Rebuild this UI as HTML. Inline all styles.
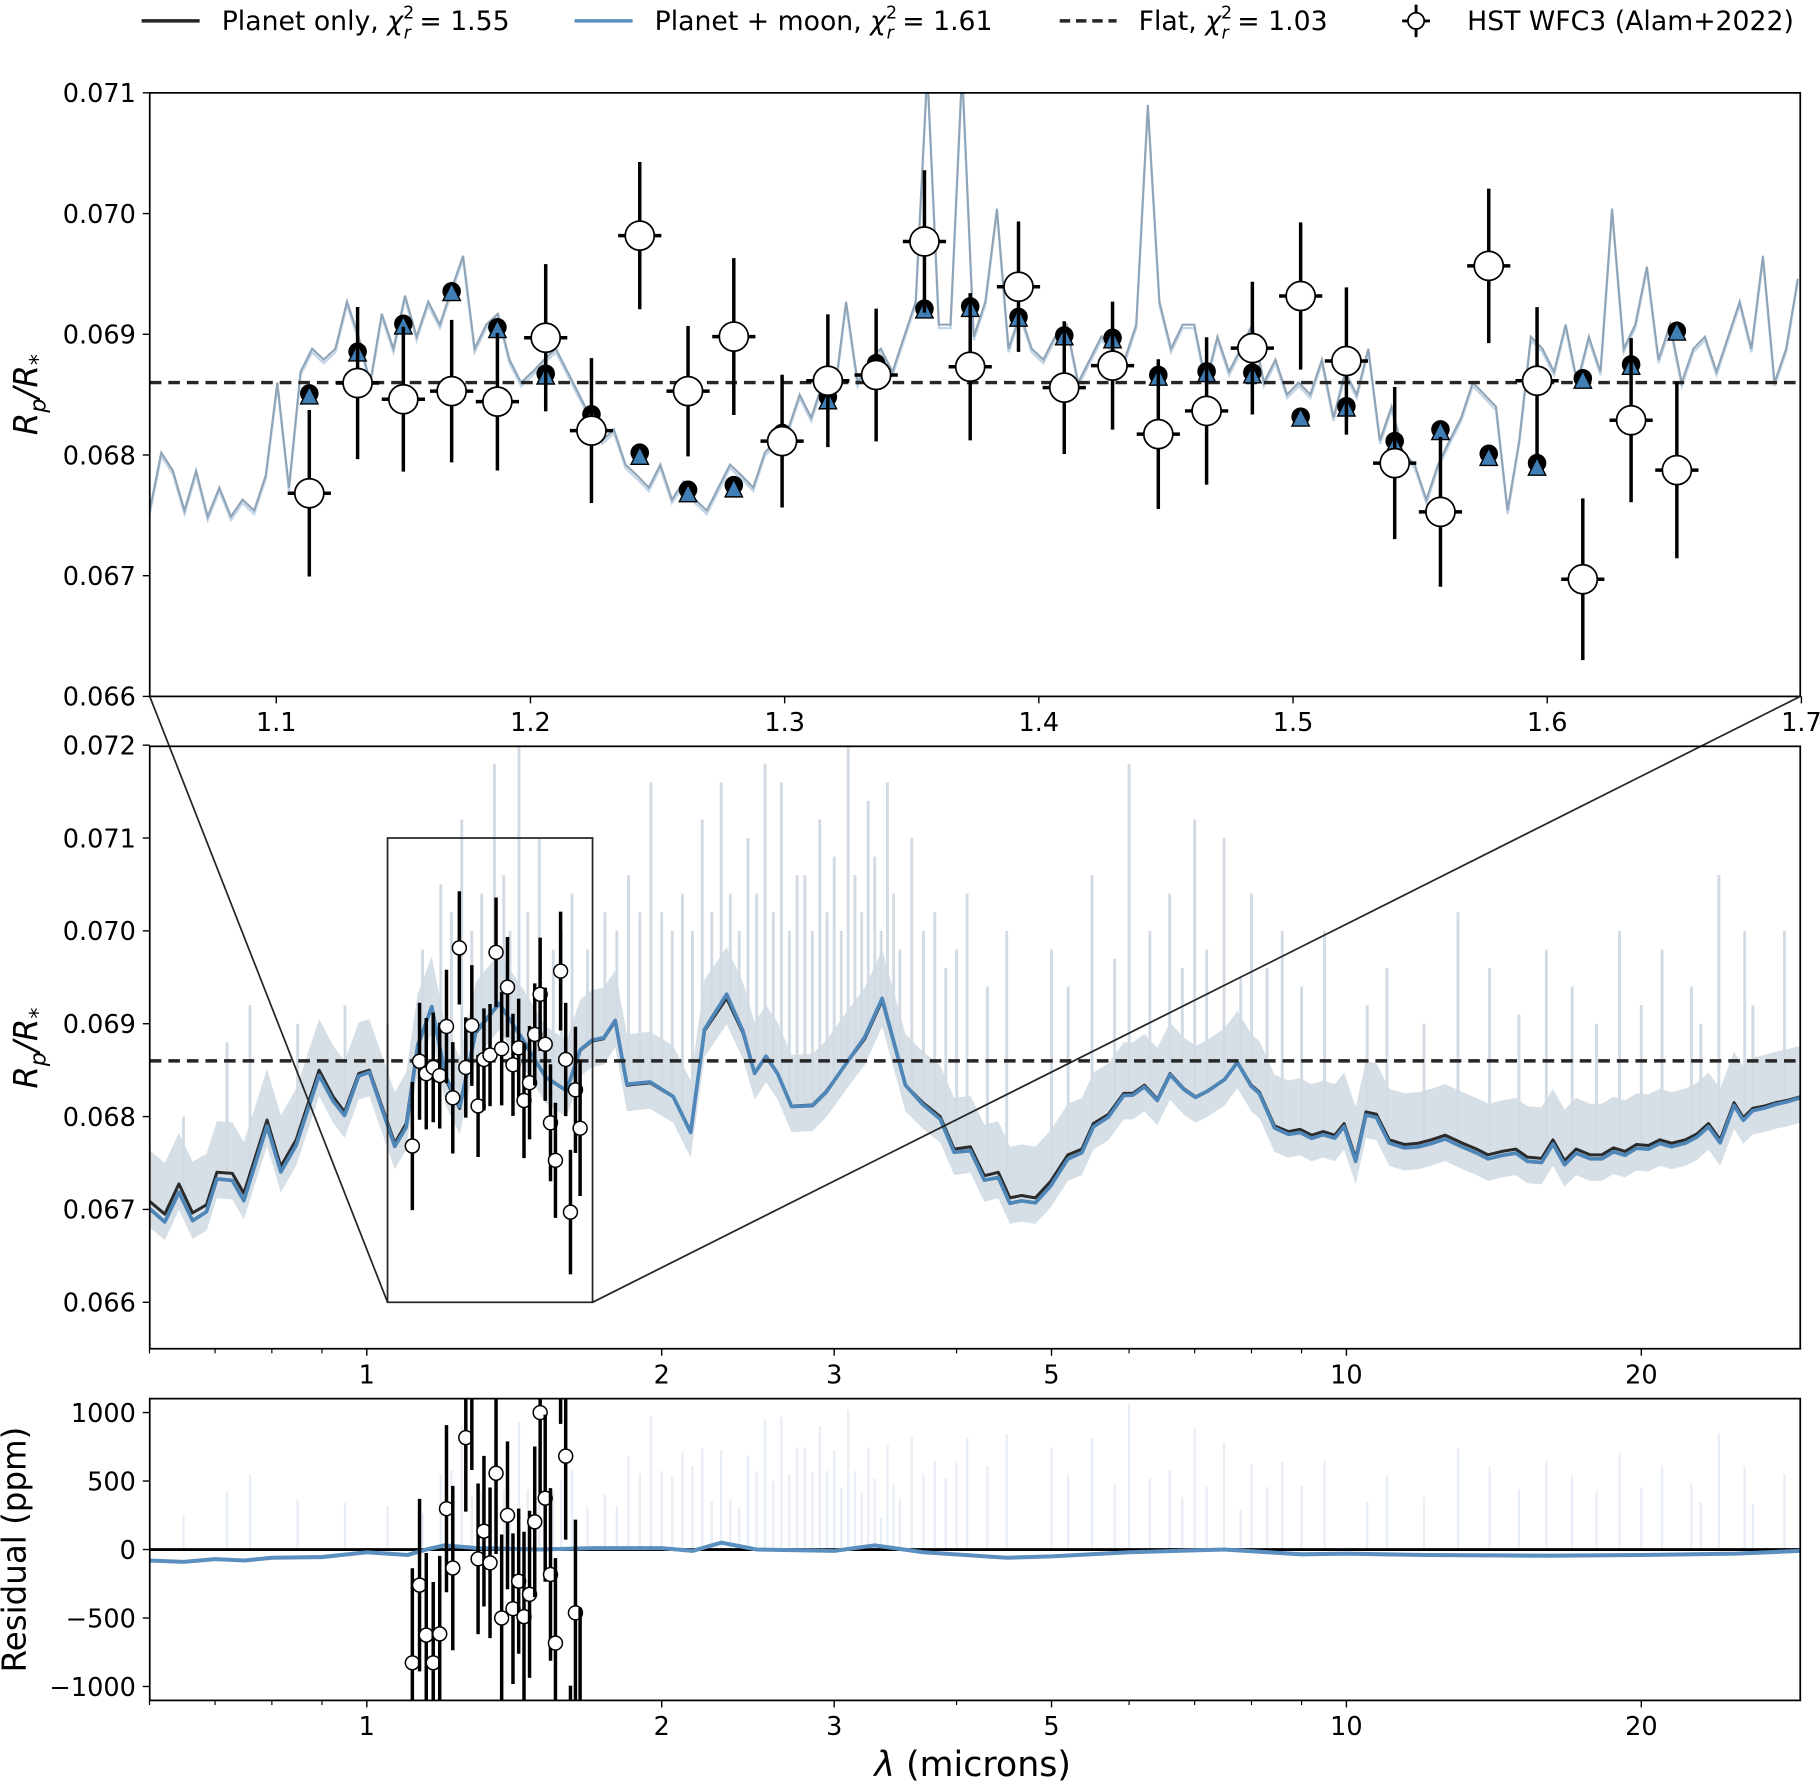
<!DOCTYPE html>
<html><head><meta charset="utf-8">
<style>
html,body{margin:0;padding:0;background:#fff;}
svg{display:block;font-family:"DejaVu Sans","Liberation Sans",sans-serif;}
</style></head>
<body>
<svg id="fig" width="1820" height="1787" viewBox="0 0 1568 1539.6" xmlns="http://www.w3.org/2000/svg">
<defs>
<clipPath id="clipTop"><rect x="129" y="80" width="1422" height="520"/></clipPath>
<clipPath id="clipMid"><rect x="129" y="643" width="1422" height="519"/></clipPath>
<clipPath id="clipRes"><rect x="129" y="1205" width="1422" height="260"/></clipPath>
</defs>
<g id="legend" font-size="23">
 <g>
  <line x1="122" y1="18" x2="172" y2="18" stroke="#262626" stroke-width="3"/>
  <text x="191" y="26">Planet only, <tspan font-style="italic">χ</tspan><tspan font-size="15" dy="-10">2</tspan><tspan font-size="15" font-style="italic" dx="-9" dy="17">r</tspan><tspan dy="-7"> = 1.55</tspan></text>
 </g>
 <g>
  <line x1="495" y1="18" x2="545" y2="18" stroke="#5b8fbf" stroke-width="3"/>
  <text x="564" y="26">Planet + moon, <tspan font-style="italic">χ</tspan><tspan font-size="15" dy="-10">2</tspan><tspan font-size="15" font-style="italic" dx="-9" dy="17">r</tspan><tspan dy="-7"> = 1.61</tspan></text>
 </g>
 <g>
  <line x1="913" y1="18" x2="962" y2="18" stroke="#262626" stroke-width="3" stroke-dasharray="9,5"/>
  <text x="981" y="26">Flat, <tspan font-style="italic">χ</tspan><tspan font-size="15" dy="-10">2</tspan><tspan font-size="15" font-style="italic" dx="-9" dy="17">r</tspan><tspan dy="-7"> = 1.03</tspan></text>
 </g>
 <g>
  <line x1="1220" y1="4" x2="1220" y2="32" stroke="#000" stroke-width="2.5"/>
  <line x1="1208" y1="18" x2="1232" y2="18" stroke="#000" stroke-width="2.5"/>
  <circle cx="1220" cy="18" r="7" fill="#fff" stroke="#000" stroke-width="1.5"/>
  <text x="1264" y="26">HST WFC3 (Alam+2022)</text>
 </g>
</g>
<g id="gTop"></g>
<g id="gMid"></g>
<g id="gRes"></g>
</svg>
<script>
// ---------- DATA ----------
const obsWl = [1.113,1.132,1.150,1.169,1.187,1.206,1.224,1.243,1.262,1.280,1.299,1.317,1.336,1.355,1.373,1.392,1.410,1.429,1.447,1.466,1.484,1.503,1.521,1.540,1.558,1.577,1.596,1.614,1.633,1.651];
const obsVal = [0.067683,0.068596,0.068462,0.068529,0.068442,0.068971,0.068202,0.069817,0.068529,0.068981,0.068115,0.068615,0.068663,0.069769,0.068731,0.069394,0.068558,0.068740,0.068173,0.068365,0.068885,0.069317,0.068779,0.067933,0.067529,0.069567,0.068615,0.066971,0.068288,0.067875];
const obsErr = [0.00069,0.00063,0.00060,0.00059,0.00057,0.00061,0.00060,0.00061,0.00054,0.00065,0.00055,0.00055,0.00055,0.00059,0.00061,0.00054,0.00055,0.00053,0.00062,0.00061,0.00055,0.00061,0.00061,0.00063,0.00062,0.00064,0.00061,0.00067,0.00068,0.00073];
const obsHalfBin = 0.0085;
const binPlanet = [0.068510,0.068856,0.069087,0.069356,0.069058,0.068673,0.068337,0.068019,0.067712,0.067750,0.068183,0.068481,0.068760,0.069212,0.069231,0.069144,0.068990,0.068971,0.068663,0.068692,0.068683,0.068317,0.068404,0.068115,0.068212,0.068010,0.067933,0.068635,0.068750,0.069029];
const binMoon = [0.068500,0.068856,0.069080,0.069356,0.069050,0.068665,0.068320,0.068000,0.067690,0.067730,0.068170,0.068460,0.068745,0.069212,0.069225,0.069144,0.068990,0.068965,0.068655,0.068685,0.068675,0.068317,0.068400,0.068095,0.068205,0.067990,0.067910,0.068630,0.068745,0.069029];
const flatVal = 0.06860;
const obsResid = [-827,-260,-625,-827,-616,298,-135,1798,817,1231,-68,134,-97,557,-500,250,-432,-231,-490,-327,202,1000,375,-182,-683,1557,682,-1664,-462,-1154];
const obsResidErr = [690,630,600,590,570,610,600,610,540,650,550,550,550,590,610,540,550,530,620,610,550,610,610,630,620,640,610,670,680,730];

const hiresStart = 1.0502, hiresStep = 0.004566;
const hiresVal = [0.06754,0.06802,0.06787,0.06754,0.06787,0.06749,0.06773,0.06749,0.06763,0.06754,0.06783,0.06860,0.06773,0.06869,0.06888,0.06879,0.06888,0.06927,0.06898,0.06860,0.06917,0.06888,0.06932,0.06898,0.06927,0.06908,0.06937,0.06965,0.06888,0.06908,0.06917,0.06879,0.06860,0.06869,0.06879,0.06888,0.06869,0.06850,0.06831,0.06812,0.06821,0.06792,0.06783,0.06773,0.06792,0.06763,0.06778,0.06763,0.06754,0.06773,0.06792,0.06783,0.06773,0.06802,0.06812,0.06821,0.06850,0.06831,0.06860,0.06850,0.06927,0.06860,0.06879,0.06888,0.06869,0.06898,0.06927,0.07119,0.06908,0.06908,0.07119,0.06898,0.06927,0.07004,0.06888,0.06917,0.06888,0.06879,0.06898,0.06908,0.06860,0.06879,0.06898,0.06888,0.06879,0.06908,0.07090,0.06927,0.06888,0.06908,0.06908,0.06860,0.06898,0.06869,0.06888,0.06908,0.06860,0.06879,0.06850,0.06860,0.06850,0.06879,0.06831,0.06869,0.06850,0.06888,0.06812,0.06840,0.06802,0.06792,0.06763,0.06792,0.06812,0.06831,0.06860,0.06850,0.06840,0.06754,0.06812,0.06898,0.06888,0.06869,0.06908,0.06860,0.06898,0.06869,0.07004,0.06888,0.06908,0.06956,0.06879,0.06908,0.06860,0.06888,0.06898,0.06869,0.06898,0.06927,0.06888,0.06965,0.06860,0.06888,0.06946];

const modelWl = [0.600,0.622,0.643,0.664,0.686,0.703,0.729,0.749,0.791,0.817,0.847,0.894,0.924,0.949,0.981,1.006,1.068,1.097,1.127,1.165,1.204,1.244,1.292,1.365,1.441,1.522,1.599,1.652,1.698,1.745,1.793,1.843,1.946,2.055,2.141,2.212,2.330,2.421,2.488,2.556,2.627,2.714,2.851,2.946,3.094,3.224,3.358,3.547,3.695,3.849,3.977,4.132,4.270,4.412,4.534,4.659,4.814,4.988,5.196,5.369,5.517,5.716,5.924,6.053,6.220,6.411,6.606,6.826,7.015,7.209,7.510,7.739,7.996,8.151,8.445,8.727,8.968,9.215,9.470,9.731,9.946,10.22,10.47,10.73,11.06,11.46,11.84,12.21,12.61,13.14,13.58,13.95,14.41,14.89,15.30,15.82,16.25,16.70,17.16,17.74,18.23,18.73,19.25,19.78,20.33,20.89,21.47,22.18,22.79,23.42,24.07,24.87,25.42,25.98,26.70,27.44,28.20,29.06];
const modelPlanet = [0.067088,0.06695,0.067275,0.066963,0.06705,0.0674,0.067388,0.067175,0.067963,0.067463,0.06775,0.0685,0.068213,0.06805,0.068463,0.0685,0.067713,0.067925,0.068775,0.069175,0.0684,0.068088,0.0689,0.069213,0.068838,0.068425,0.068275,0.068713,0.068813,0.068838,0.069025,0.068338,0.068363,0.068213,0.067838,0.068925,0.069275,0.0689,0.068463,0.06865,0.068463,0.068113,0.068125,0.068275,0.068588,0.068838,0.06925,0.068338,0.06815,0.068,0.06765,0.067675,0.067363,0.0674,0.067125,0.06715,0.067125,0.0673,0.067588,0.06765,0.067925,0.068025,0.06825,0.06825,0.068338,0.068188,0.068463,0.0683,0.068213,0.068275,0.0684,0.068588,0.068338,0.068263,0.0679,0.067838,0.067863,0.0678,0.067838,0.0678,0.067925,0.06755,0.06805,0.068025,0.06775,0.0677,0.067713,0.06775,0.0678,0.067713,0.06765,0.067588,0.067625,0.06765,0.067563,0.06755,0.06775,0.067525,0.06765,0.067588,0.067588,0.067663,0.067625,0.0677,0.067688,0.06775,0.067713,0.06775,0.067813,0.067925,0.06775,0.06815,0.067988,0.068088,0.068113,0.06815,0.068175,0.068213];
const residWl = [0.6,0.65,0.7,0.75,0.8,0.9,1.0,1.1,1.15,1.2,1.3,1.5,1.7,2.0,2.15,2.3,2.5,3.0,3.3,3.7,4.5,5.0,6.0,7.5,9.0,10,12,16,20,25,29.06];
const residPpm = [-80,-90,-70,-80,-60,-55,-20,-40,0,30,10,0,10,10,-10,50,0,-10,30,-20,-60,-50,-20,0,-35,-30,-40,-45,-40,-30,-10];
const spikeWl = [0.65,0.72,0.76,0.85,0.95,1.05,1.14,1.19,1.25,1.35,1.43,1.5,1.62,1.85,1.95,2.0,2.2,2.3,2.45,2.55,2.65,2.75,2.9,3.0,3.1,3.25,3.4,3.6,3.8,4.1,4.5,5.0,5.5,6.0,6.6,7.0,7.5,8.0,8.6,9.5,11,13,14,16,17,19,21,22.5,24,25.5,28,
  1.22,1.28,1.31,1.38,1.40,1.46,1.55,1.58,1.68,1.75,1.80,1.90,2.05,2.10,2.15,2.25,2.35,2.40,2.50,2.60,2.70,2.80,2.85,2.95,3.05,3.15,3.2,3.3,3.35,3.45,3.5,3.7,3.9,4.0,4.3,5.2,5.8,6.3,6.8,7.2,7.8,8.3,9.0,10.5,12,15,18,20,23,26];
const spikeTop = [0.0680,0.0688,0.0692,0.0690,0.0692,0.0690,0.0698,0.0705,0.0712,0.0718,0.0720,0.0710,0.0704,0.0706,0.0716,0.0702,0.0712,0.0716,0.0710,0.0718,0.0716,0.0706,0.0712,0.0708,0.0720,0.0714,0.0716,0.0710,0.0702,0.0704,0.0700,0.0698,0.0706,0.0718,0.0704,0.0712,0.0710,0.0704,0.0700,0.0700,0.0696,0.0702,0.0696,0.0698,0.0694,0.0700,0.0698,0.0694,0.0706,0.0700,0.0700,
  0.0702,0.0700,0.0704,0.0706,0.0700,0.0702,0.0698,0.0700,0.0698,0.0702,0.0700,0.0702,0.0700,0.0704,0.0700,0.0702,0.0704,0.0700,0.0704,0.0702,0.0700,0.0706,0.0700,0.0702,0.0700,0.0706,0.0702,0.0708,0.0700,0.0704,0.0698,0.0700,0.0696,0.0698,0.0694,0.0694,0.0697,0.0700,0.0696,0.0698,0.0695,0.0696,0.0694,0.0692,0.0690,0.0691,0.0690,0.0692,0.0690,0.0692];
const topYTicks = [0.066,0.067,0.068,0.069,0.070,0.071];
const topXTicks = [1.1,1.2,1.3,1.4,1.5,1.6,1.7];
const midYTicks = [0.066,0.067,0.068,0.069,0.070,0.071,0.072];
const logXTicks = [1,2,3,5,10,20];
const logMinor = [0.6,0.7,0.8,0.9,4,6,7,8,9];
const resYTicks = [1000,500,0,-500,-1000];

// ---------- AXES ----------
const NS = 'http://www.w3.org/2000/svg';
const L = 129, R = 1551;
const tx = v => 128.5 + (v - 1.05) * 2190;
const ty = v => 80 + (0.071 - v) * 104000;
const lx = v => 316 + Math.log10(v) * 844;
const my = v => 1122 - (v - 0.066) * 80000;
const ry = v => 1335 - v * 0.118;
function mk(tag, attrs, parent) {
  const e = document.createElementNS(NS, tag);
  for (const k in attrs) e.setAttribute(k, attrs[k]);
  parent.appendChild(e);
  return e;
}
const gTop = document.getElementById('gTop');
const gMid = document.getElementById('gMid');
const gRes = document.getElementById('gRes');
const fmt = v => v.toFixed(3);
function pathOf(xs, ys) { return xs.map((x, i) => (i ? 'L' : 'M') + x.toFixed(2) + ',' + ys[i].toFixed(2)).join(''); }
function interp(xArr, yArr, x) {
  if (x <= xArr[0]) return yArr[0];
  for (let i = 1; i < xArr.length; i++) if (x <= xArr[i]) { const t = (x - xArr[i-1]) / (xArr[i] - xArr[i-1]); return yArr[i-1] + t * (yArr[i] - yArr[i-1]); }
  return yArr[yArr.length - 1];
}

// ===== TOP PANEL =====
{
  const clip = mk('g', {'clip-path': 'url(#clipTop)'}, gTop);
  
  
  const xs = hiresVal.map((v, i) => tx(hiresStart + i * hiresStep));
  const p2 = mk('path', {d: pathOf(xs, hiresVal.map(v => ty(v) + 3)), fill: 'none', stroke: '#c4d6e6', 'stroke-width': 2}, clip);
  
  
  const p1 = mk('path', {d: pathOf(xs, hiresVal.map(ty)), fill: 'none', stroke: '#8fa4b6', 'stroke-width': 1.8}, clip);
  
  
  const fl = mk('line', {x1: L, x2: R, y1: ty(flatVal), y2: ty(flatVal), stroke: '#262626', 'stroke-width': 3, 'stroke-dasharray': '10,6'}, clip);
  
  
  obsWl.forEach((w, i) => {
    const x = tx(w);
    const c = mk('circle', {cx: x, cy: ty(binPlanet[i]), r: 8, fill: '#000'}, clip);
    
    
    const yy = ty(binMoon[i]) + 2;
    const t = mk('polygon', {points: `${x},${yy-9} ${x-7.5},${yy+6} ${x+7.5},${yy+6}`, fill: '#3f7fb5', stroke: '#000', 'stroke-width': 1.2}, clip);
    
    
  });
  obsWl.forEach((w, i) => {
    const x = tx(w), y = ty(obsVal[i]);
    const g = mk('g', {}, clip);
    
    
    mk('line', {x1: x, x2: x, y1: ty(obsVal[i] + obsErr[i]), y2: ty(obsVal[i] - obsErr[i]), stroke: '#000', 'stroke-width': 3}, g);
    mk('line', {x1: tx(w - obsHalfBin), x2: tx(w + obsHalfBin), y1: y, y2: y, stroke: '#000', 'stroke-width': 3}, g);
    mk('circle', {cx: x, cy: y, r: 12.5, fill: '#fff', stroke: '#000', 'stroke-width': 1.5}, g);
  });
  const fr = mk('rect', {x: L, y: 80, width: R - L, height: 520, fill: 'none', stroke: '#000', 'stroke-width': 1.5}, gTop);
  
  
  topYTicks.forEach(v => {
    mk('line', {x1: L - 6, x2: L, y1: ty(v), y2: ty(v), stroke: '#000', 'stroke-width': 1.2}, gTop);
    const t = mk('text', {x: 117, y: ty(v) + 8, 'text-anchor': 'end', 'font-size': 22}, gTop);
    t.textContent = fmt(v);
    
    
  });
  topXTicks.forEach(v => {
    mk('line', {x1: tx(v), x2: tx(v), y1: 600, y2: 606, stroke: '#000', 'stroke-width': 1.2}, gTop);
    const t = mk('text', {x: tx(v), y: 630, 'text-anchor': 'middle', 'font-size': 22}, gTop);
    t.textContent = v.toFixed(1);
    
    
  });
  const yl = mk('text', {x: 0, y: 0, transform: 'translate(32,340) rotate(-90)', 'text-anchor': 'middle', 'font-size': 28, 'font-style': 'italic'}, gTop);
  yl.innerHTML = 'R<tspan font-size="19" dy="7">p</tspan><tspan dy="-7">/R</tspan><tspan font-size="19" dy="7">*</tspan>';
  
  
}

// ===== MIDDLE PANEL =====
{
  const clip = mk('g', {'clip-path': 'url(#clipMid)'}, gMid);
  
  
  const xs = modelWl.map(lx);
  const up = modelPlanet.map(v => my(v + 0.00055));
  const lo = modelPlanet.map(v => my(v - 0.00028));
  let d = pathOf(xs, up) + xs.slice().reverse().map((x, i) => 'L' + x.toFixed(2) + ',' + lo[lo.length - 1 - i].toFixed(2)).join('') + 'Z';
  const band = mk('path', {d: d, fill: '#d6dee6'}, clip);
  
  
  spikeWl.forEach((w, i) => {
    const base = interp(modelWl, modelPlanet, w);
    const s = mk('line', {x1: lx(w), x2: lx(w), y1: my(base), y2: my(spikeTop[i]), stroke: '#d2dbe4', 'stroke-width': 2.5}, clip);
    
    
  });
  const moonY = modelWl.map((w, i) => my(modelPlanet[i] + interp(residWl, residPpm, w) * 1e-6));
  const pp = mk('path', {d: pathOf(xs, modelPlanet.map(my)), fill: 'none', stroke: '#2b2b2b', 'stroke-width': 2.6, 'stroke-linejoin': 'round'}, clip);
  
  
  const pm = mk('path', {d: pathOf(xs, moonY), fill: 'none', stroke: '#4f86b8', 'stroke-width': 3.2, 'stroke-linejoin': 'round'}, clip);
  
  
  const fl = mk('line', {x1: L, x2: R, y1: my(flatVal), y2: my(flatVal), stroke: '#262626', 'stroke-width': 3, 'stroke-dasharray': '10,6'}, clip);
  
  
  obsWl.forEach((w, i) => {
    const x = lx(w), y = my(obsVal[i]);
    const g = mk('g', {}, clip);
    
    
    mk('line', {x1: x, x2: x, y1: my(obsVal[i] + obsErr[i]), y2: my(obsVal[i] - obsErr[i]), stroke: '#000', 'stroke-width': 3}, g);
    mk('circle', {cx: x, cy: y, r: 6, fill: '#fff', stroke: '#000', 'stroke-width': 1.3}, g);
  });
  const zb = mk('rect', {x: lx(1.05), y: my(0.071), width: lx(1.7) - lx(1.05), height: my(0.066) - my(0.071), fill: 'none', stroke: '#262626', 'stroke-width': 1.5}, gMid);
  
  
  const c1 = mk('line', {x1: L, y1: 600, x2: lx(1.05), y2: my(0.066), stroke: '#262626', 'stroke-width': 1.5}, gMid);
  
  
  const c2 = mk('line', {x1: R, y1: 600, x2: lx(1.7), y2: my(0.066), stroke: '#262626', 'stroke-width': 1.5}, gMid);
  
  
  const fr = mk('rect', {x: L, y: 643, width: R - L, height: 519, fill: 'none', stroke: '#000', 'stroke-width': 1.5}, gMid);
  
  
  midYTicks.forEach(v => {
    mk('line', {x1: L - 6, x2: L, y1: my(v), y2: my(v), stroke: '#000', 'stroke-width': 1.2}, gMid);
    const t = mk('text', {x: 117, y: my(v) + 8, 'text-anchor': 'end', 'font-size': 22}, gMid);
    t.textContent = fmt(v);
    
    
  });
  logMinor.forEach(v => mk('line', {x1: lx(v), x2: lx(v), y1: 1162, y2: 1166, stroke: '#000', 'stroke-width': 1}, gMid));
  logXTicks.forEach(v => {
    mk('line', {x1: lx(v), x2: lx(v), y1: 1162, y2: 1168, stroke: '#000', 'stroke-width': 1.2}, gMid);
    const t = mk('text', {x: lx(v), y: 1192, 'text-anchor': 'middle', 'font-size': 22}, gMid);
    t.textContent = String(v);
    
    
  });
  const yl = mk('text', {x: 0, y: 0, transform: 'translate(32,903) rotate(-90)', 'text-anchor': 'middle', 'font-size': 28, 'font-style': 'italic'}, gMid);
  yl.innerHTML = 'R<tspan font-size="19" dy="7">p</tspan><tspan dy="-7">/R</tspan><tspan font-size="19" dy="7">*</tspan>';
  
  
}

// ===== RESIDUAL PANEL =====
{
  const clip = mk('g', {'clip-path': 'url(#clipRes)'}, gRes);
  
  
  spikeWl.forEach((w, i) => {
    const s = mk('line', {x1: lx(w), x2: lx(w), y1: ry(0), y2: ry((spikeTop[i] - interp(modelWl, modelPlanet, w)) * 1e6 * 0.3), stroke: '#e8eef5', 'stroke-width': 2}, clip);
    
    
  });
  const zl = mk('line', {x1: L, x2: R, y1: ry(0), y2: ry(0), stroke: '#000', 'stroke-width': 2.5}, clip);
  
  
  const rp = mk('path', {d: pathOf(residWl.map(lx), residPpm.map(ry)), fill: 'none', stroke: '#5b8fbf', 'stroke-width': 3.5, 'stroke-linejoin': 'round'}, clip);
  
  
  obsWl.forEach((w, i) => {
    const x = lx(w), y = ry(obsResid[i]);
    const g = mk('g', {}, clip);
    
    
    mk('line', {x1: x, x2: x, y1: ry(obsResid[i] + obsResidErr[i]), y2: ry(obsResid[i] - obsResidErr[i]), stroke: '#000', 'stroke-width': 3}, g);
    mk('circle', {cx: x, cy: y, r: 6, fill: '#fff', stroke: '#000', 'stroke-width': 1.3}, g);
  });
  const fr = mk('rect', {x: L, y: 1205, width: R - L, height: 260, fill: 'none', stroke: '#000', 'stroke-width': 1.5}, gRes);
  
  
  resYTicks.forEach(v => {
    mk('line', {x1: L - 6, x2: L, y1: ry(v), y2: ry(v), stroke: '#000', 'stroke-width': 1.2}, gRes);
    const t = mk('text', {x: 117, y: ry(v) + 8, 'text-anchor': 'end', 'font-size': 22}, gRes);
    t.textContent = v < 0 ? '\u2212' + Math.abs(v) : String(v);
    
    
  });
  logMinor.forEach(v => mk('line', {x1: lx(v), x2: lx(v), y1: 1465, y2: 1469, stroke: '#000', 'stroke-width': 1}, gRes));
  logXTicks.forEach(v => {
    mk('line', {x1: lx(v), x2: lx(v), y1: 1465, y2: 1471, stroke: '#000', 'stroke-width': 1.2}, gRes);
    const t = mk('text', {x: lx(v), y: 1495, 'text-anchor': 'middle', 'font-size': 22}, gRes);
    t.textContent = String(v);
    
    
  });
  const yl = mk('text', {x: 0, y: 0, transform: 'translate(22,1335) rotate(-90)', 'text-anchor': 'middle', 'font-size': 28}, gRes);
  yl.textContent = 'Residual (ppm)';
  
  
  const xl = mk('text', {x: 838, y: 1530, 'text-anchor': 'middle', 'font-size': 30}, gRes);
  xl.innerHTML = '<tspan font-style="italic">λ</tspan> (microns)';
  
  
}
</script>
</body></html>
